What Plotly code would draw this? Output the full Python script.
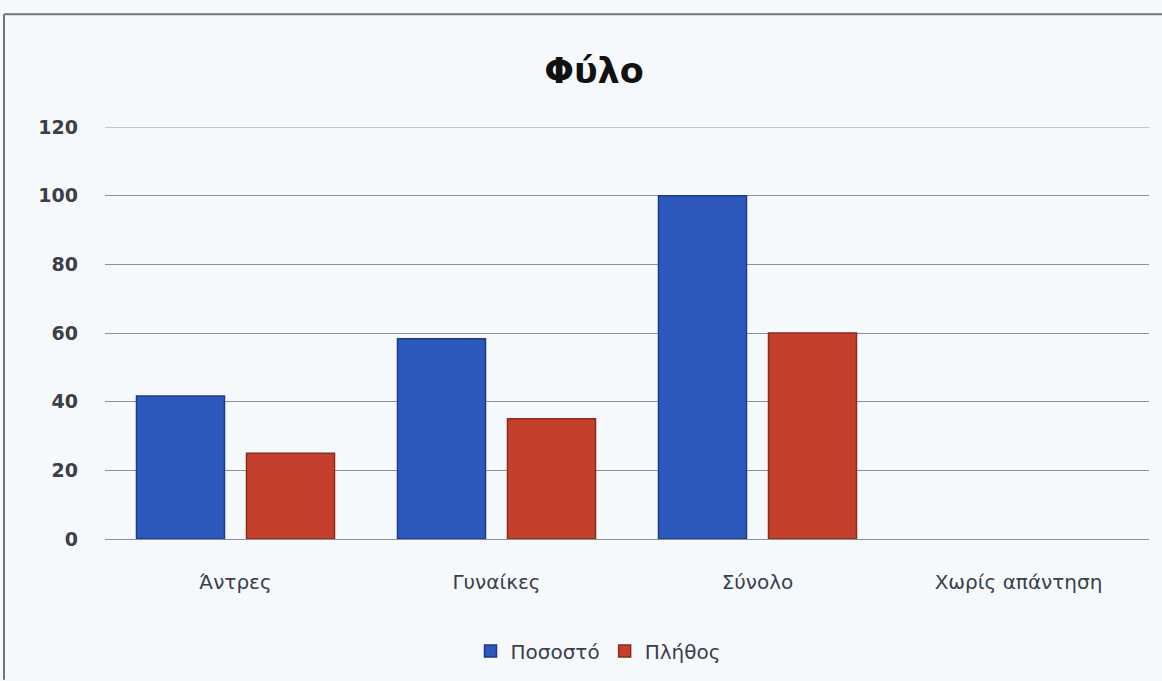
import plotly.graph_objects as go

categories = ["Άντρες", "Γυναίκες", "Σύνολο", "Χωρίς απάντηση"]
pososto = [41.67, 58.33, 100, 0]
plithos = [25, 35, 60, 0]
y_ticks = [0, 20, 40, 60, 80, 100, 120]

W, H = 1162, 681
ML, MR, MT, MB = 105, 13, 127, 141
pw = W - ML - MR
ph = H - MT - MB


def px_x(px):
    return (px - ML) / pw


def px_y(py):
    return (H - MB - py) / ph


def edge_widths(values):
    # no outline on empty bars so nothing is drawn for zero values
    return [1.5 if v > 0 else 0 for v in values]


fig = go.Figure()
fig.add_trace(go.Bar(
    name="Ποσοστό", x=categories, y=pososto,
    marker=dict(color="#2d58bb", line=dict(color="#1c3a8a", width=edge_widths(pososto))),
))
fig.add_trace(go.Bar(
    name="Πλήθος", x=categories, y=plithos,
    marker=dict(color="#c5402c", line=dict(color="#8c2a1c", width=edge_widths(plithos))),
))

x_font = dict(family="DejaVu Sans, sans-serif", size=20, color="#3a3f4a")
y_font = dict(family="DejaVu Sans, sans-serif", size=19, color="#3a3f4a", weight="bold")

fig.update_layout(
    width=W, height=H,
    margin=dict(l=ML, r=MR, t=MT, b=MB),
    paper_bgcolor="#f6f9fc",
    plot_bgcolor="#f6f9fc",
    barmode="group",
    bargap=0.157,
    bargroupgap=0.2,
    title=dict(
        text="<b>Φύλο</b>",
        x=px_x(594), xref="paper", xanchor="center",
        y=1 - 71 / H, yref="container", yanchor="middle",
        font=dict(family="DejaVu Sans, sans-serif", size=35, color="#111111"),
    ),
    xaxis=dict(
        showgrid=False, showline=False, zeroline=False,
        ticks="", tickfont=x_font, ticklabelstandoff=29,
    ),
    yaxis=dict(
        range=[0, 120], tickvals=y_ticks,
        showgrid=True, gridcolor="#8c929c", gridwidth=1,
        zeroline=True, zerolinecolor="#8c929c", zerolinewidth=1,
        showline=False, ticks="", tickfont=y_font, ticklabelstandoff=26,
    ),
    legend=dict(
        orientation="h",
        x=px_x(598), xanchor="center",
        y=px_y(651), yanchor="middle",
        font=x_font,
        bgcolor="rgba(0,0,0,0)",
        itemwidth=30,
        traceorder="normal",
    ),
    showlegend=True,
)

# top gridline sits on the edge of the range, so draw it explicitly
fig.add_shape(type="line", xref="paper", yref="y", x0=0, x1=1,
              y0=y_ticks[-1], y1=y_ticks[-1],
              line=dict(color="#8c929c", width=1), layer="below")

# outer frame of the chart area
frame = dict(type="line", xref="paper", yref="paper",
             line=dict(color="#6f7580", width=2))
fig.add_shape(**frame, x0=px_x(4), x1=px_x(1162), y0=px_y(14), y1=px_y(14))
fig.add_shape(**frame, x0=px_x(4), x1=px_x(4), y0=px_y(14), y1=px_y(681))

fig.write_html("out.html")
